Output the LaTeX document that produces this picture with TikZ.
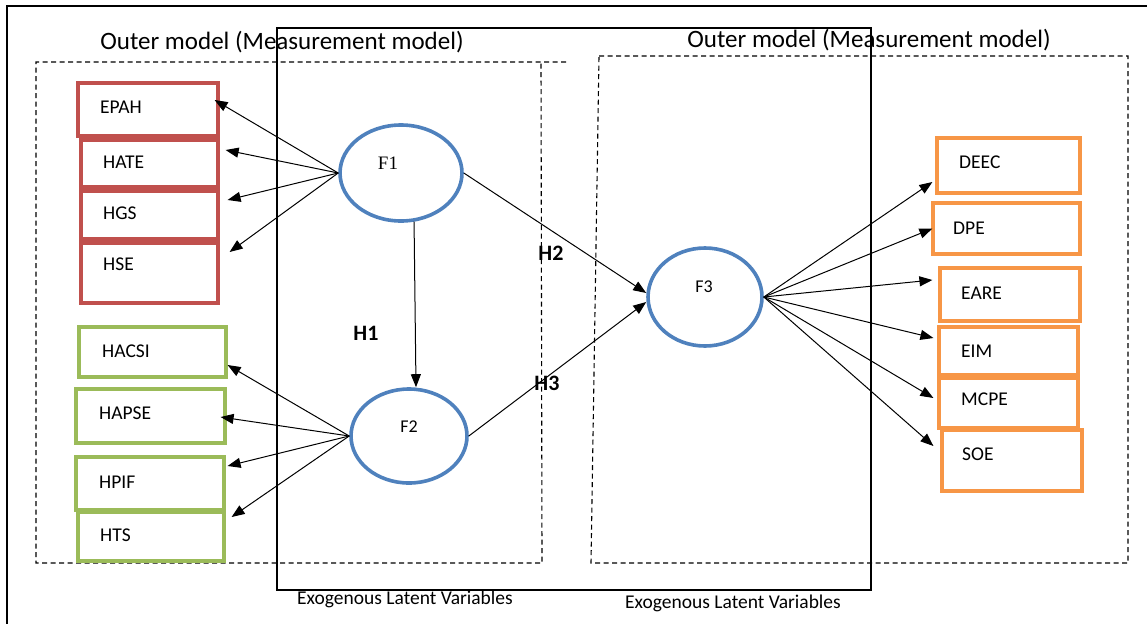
\documentclass[tikz,border=0pt]{standalone}
\usepackage{fontspec}
\setmainfont{Carlito}
\newfontfamily\serifF{Liberation Serif}
\usetikzlibrary{arrows.meta,shapes.geometric}
\definecolor{cred}{HTML}{C0504D}
\definecolor{cgreen}{HTML}{9BBB59}
\definecolor{corange}{HTML}{F79646}
\definecolor{cblue}{HTML}{4F81BD}
\tikzset{
  indbox/.style={draw=#1, line width=3.2pt, inner sep=0pt, rectangle},
  btext/.style={anchor=west, inner sep=0pt, font=\fontsize{19.5}{23}\selectfont},
  latent/.style={draw=cblue, line width=3.6pt, ellipse, inner sep=0pt},
  ltext/.style={inner sep=0pt, font=\fontsize{18}{22}\selectfont},
  arr/.style={line width=1pt, -{Triangle[length=13pt,width=10pt]}},
  hlab/.style={inner sep=0pt, font=\fontsize{22}{26}\selectfont\bfseries},
  title/.style={inner sep=0pt, font=\fontsize{25}{30}\selectfont},
  exo/.style={inner sep=0pt, font=\fontsize{19.5}{23}\selectfont},
  dashbox/.style={line width=1.1pt, dash pattern=on 5pt off 3.5pt},
}
% name, colour, x1, y1, x2, y2, text, tx, ty
\newcommand\mkbox[9]{%
  \node[indbox=#2, minimum width={#5-#3}, minimum height={#6-#4}] (#1) at ({(#3+#5)/2},{(#4+#6)/2}) {};
  \node[btext] (#1t) at (#8,#9) {#7};
}
\begin{document}
\begin{tikzpicture}[x=1pt,y=-1pt]
\useasboundingbox (0,0) rectangle (1147,624);
% frame
\draw[line width=2pt] (1147,6) -- (7,6) -- (7,624);
% dashed measurement boxes
\draw[dashbox] (566,62) -- (36,62) -- (36,563) -- (542,563) -- (541,62);
\draw[dashbox] (599,56) -- (1128,56) -- (1128,563) -- (591,563) -- cycle;
% solid structural box
\draw[line width=1.3pt] (277,28) rectangle (871,590);
% titles
\node[title] (t1) at (282,42) {Outer model (Measurement model)};
\node[title] (t2) at (869,40) {Outer model (Measurement model)};
\node[exo] (e1) at (405,599) {Exogenous Latent Variables};
\node[exo] (e2) at (733,603) {Exogenous Latent Variables};
% indicator boxes
\mkbox{EPAH}{cred}{78}{83}{218}{136}{EPAH}{100}{107}
\mkbox{HATE}{cred}{81}{140}{218}{187}{HATE}{103}{162}
\mkbox{HGS}{cred}{81}{191}{218}{239}{HGS}{103}{213}
\mkbox{HSE}{cred}{81}{243}{218}{303}{HSE}{103}{264}
\mkbox{HACSI}{cgreen}{79}{327}{226}{377}{HACSI}{102}{351}
\mkbox{HAPSE}{cgreen}{76}{389}{225}{443}{HAPSE}{99}{413}
\mkbox{HPIF}{cgreen}{76}{457}{224}{510}{HPIF}{99}{482}
\mkbox{HTS}{cgreen}{78}{512}{224}{561}{HTS}{100}{535}
\mkbox{DEEC}{corange}{937}{138}{1080}{193}{DEEC}{959}{162}
\mkbox{DPE}{corange}{933}{203}{1080}{254}{DPE}{953}{228}
\mkbox{EARE}{corange}{940}{268}{1080}{321}{EARE}{961}{293}
\mkbox{EIM}{corange}{939}{327}{1078}{375}{EIM}{961}{351}
\mkbox{MCPE}{corange}{939}{378}{1078}{428}{MCPE}{961}{399}
\mkbox{SOE}{corange}{942}{430}{1082}{491}{SOE}{962}{454}
% latent variables
\node[latent, minimum width=122pt, minimum height=96pt] (F1) at (401,173) {};
\node[latent, minimum width=116pt, minimum height=94pt] (F2) at (409,436) {};
\node[latent, minimum width=114pt, minimum height=98pt] (F3) at (705,297) {};
\node[inner sep=0pt, font=\fontsize{19}{22}\serifF] (F1t) at (388,163) {F1};
\node[ltext] (F2t) at (409,427) {F2};
\node[ltext] (F3t) at (704,287) {F3};
% outer loadings F1
\draw[arr] (F1.west) -- ([xshift=-5pt,yshift=9.5pt]EPAH.east);
\draw[arr] (F1.west) -- ([xshift=6pt,yshift=13.5pt]HATE.east);
\draw[arr] (F1.west) -- ([xshift=8pt,yshift=15pt]HGS.east);
\draw[arr] (F1.west) -- ([xshift=10pt,yshift=21pt]HSE.east);
% outer loadings F2
\draw[arr] (F2.west) -- ([yshift=-13pt]HACSI.east);
\draw[arr] (F2.west) -- ([xshift=-6pt,yshift=-1pt]HAPSE.east);
\draw[arr] (F2.west) -- ([xshift=2pt,yshift=17.5pt]HPIF.east);
\draw[arr] (F2.west) -- ([xshift=6pt,yshift=19.5pt]HTS.east);
% outer loadings F3
\draw[arr] (F3.east) -- ([xshift=-3pt,yshift=-16.5pt]DEEC.west);
\draw[arr] (F3.east) -- ([xshift=1pt]DPE.west);
\draw[arr] (F3.east) -- ([xshift=-6pt,yshift=14.5pt]EARE.west);
\draw[arr] (F3.east) -- ([xshift=-4pt,yshift=13pt]EIM.west);
\draw[arr] (F3.east) -- ([xshift=-4pt,yshift=5pt]MCPE.west);
\draw[arr] (F3.east) -- ([xshift=-7pt,yshift=14.5pt]SOE.west);
% structural paths
\draw[arr] (F1.-75) -- ([xshift=7pt]F2.north);
\draw[arr] (F1.east) -- ([yshift=4pt]F3.west);
\draw[arr] (F2.east) -- ([yshift=-5pt]F3.west);
\node[hlab] (H1) at (366,333) {H1};
\node[hlab] (H2) at (551,253) {H2};
\node[hlab] (H3) at (547,383) {H3};
\end{tikzpicture}
\end{document}
